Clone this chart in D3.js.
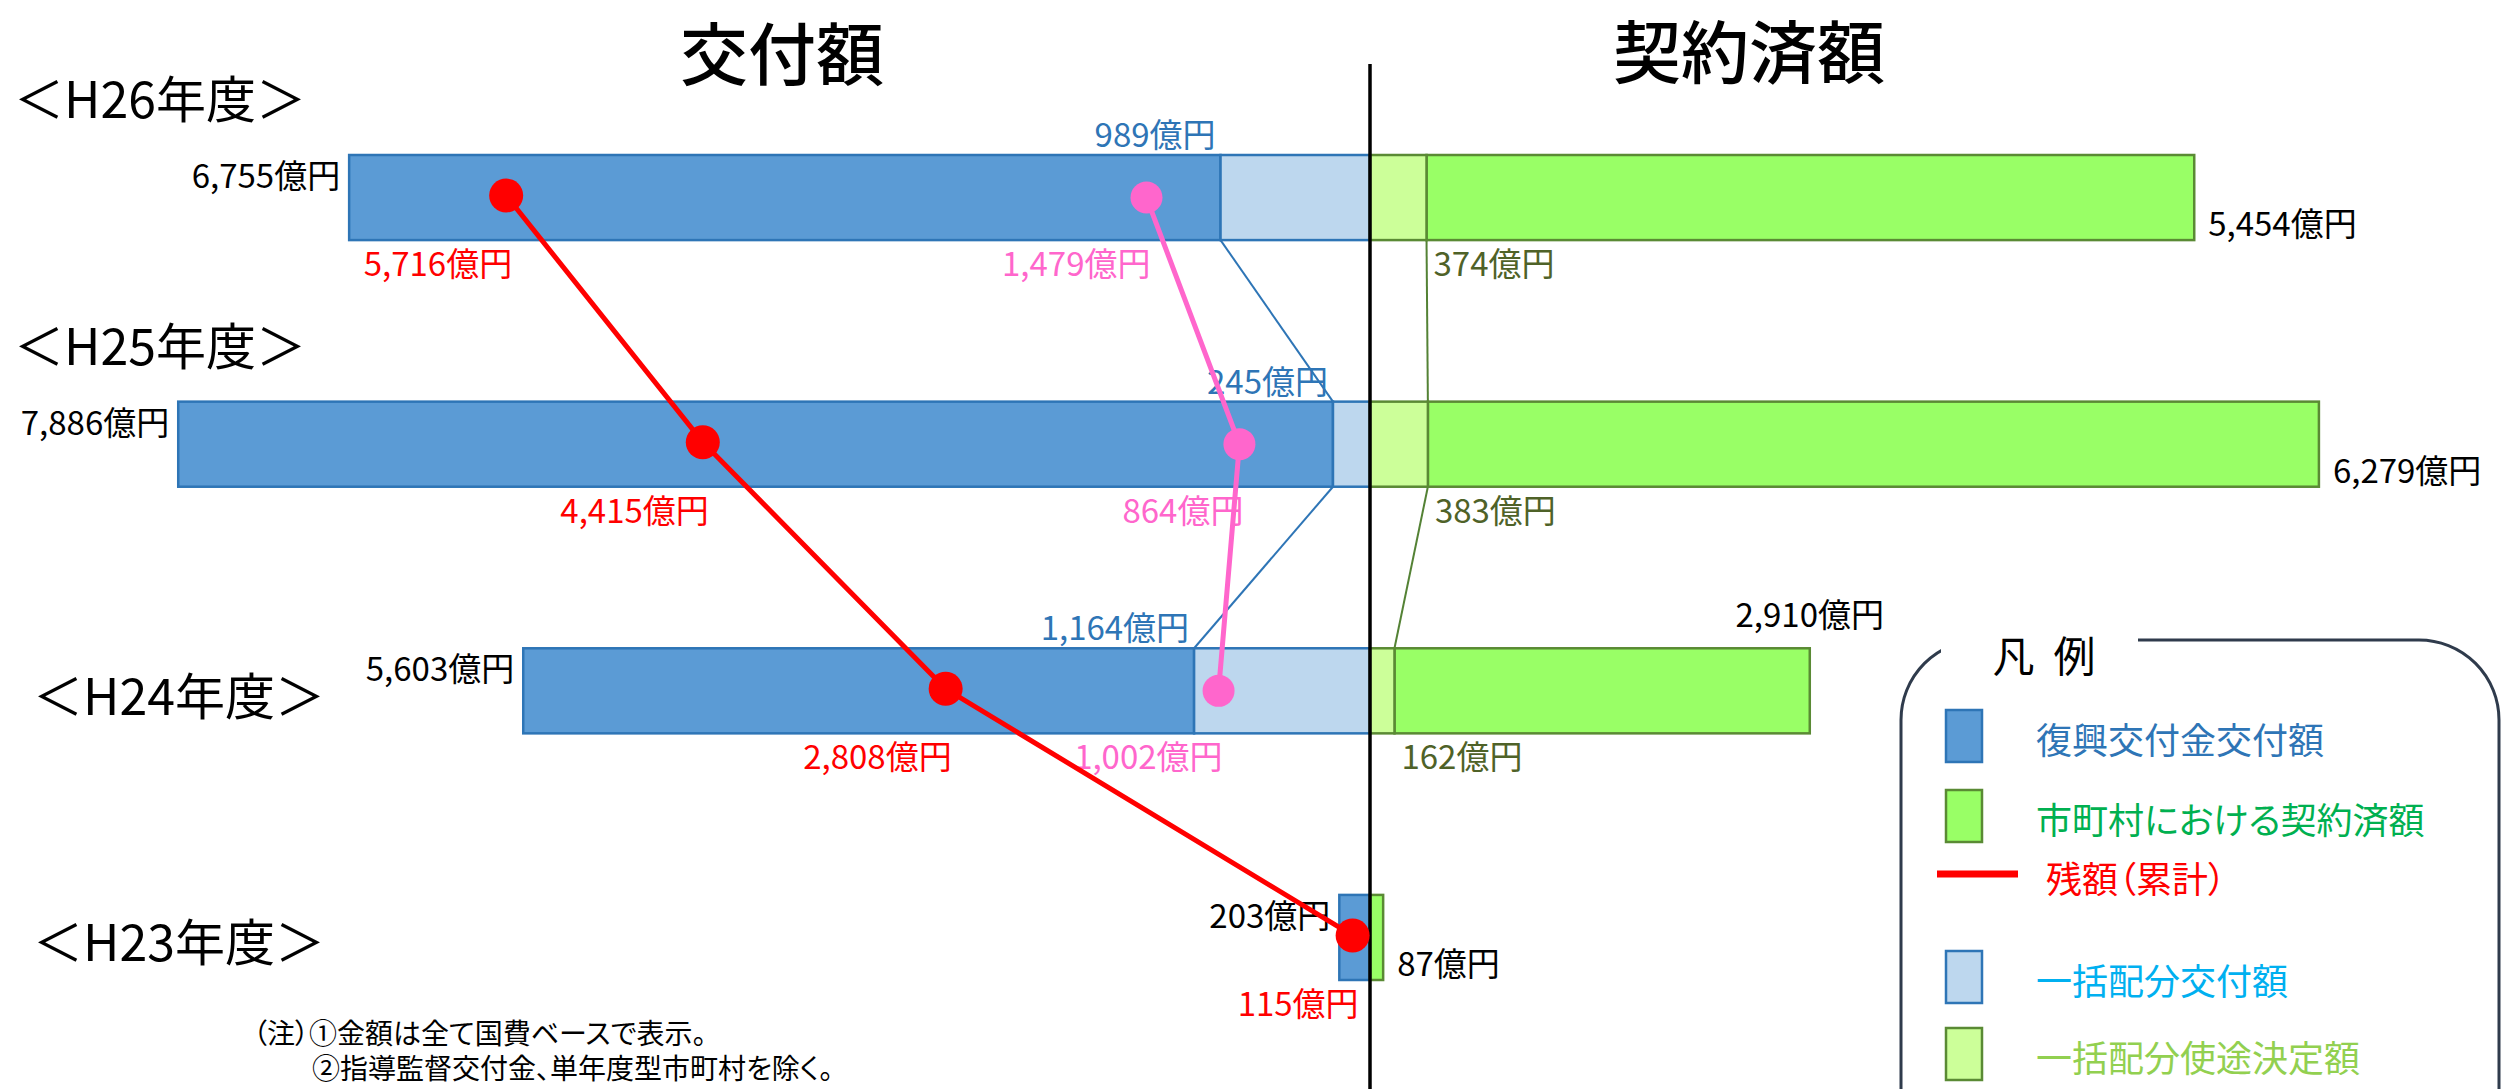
<!DOCTYPE html>
<html>
<head>
<meta charset="utf-8">
<title>交付額と契約済額</title>
<script src="https://d3js.org/d3.v7.min.js"></script>
<style>
  body { margin: 0; background: #fff; }
  text { font-family: "Noto Sans CJK JP", "Noto Sans", sans-serif; font-feature-settings: "palt"; }
</style>
</head>
<body>
<div id="chart"></div>
<script>
// 年度ごとの値（億円）
const years = ["H26", "H25", "H24", "H23"];
const yearLabels = ["＜H26年度＞", "＜H25年度＞", "＜H24年度＞", "＜H23年度＞"];
const kofuTotal = [6755, 7886, 5603, 203];       // 復興交付金交付額
const kofuIkkatsu = [989, 245, 1164, 0];         // 一括配分交付額
const keiyakuTotal = [5454, 6279, 2910, 87];     // 市町村における契約済額
const keiyakuIkkatsu = [374, 383, 162, 0];       // 一括配分使途決定額
const zanTotal = [5716, 4415, 2808, 115];        // 残額（累計）
const zanIkkatsu = [1479, 864, 1002, null];      // 一括配分の残額

const legendLabels = ["復興交付金交付額", "市町村における契約済額", "残額（累計）", "一括配分交付額", "一括配分使途決定額"];
const notes = ["（注）①金額は全て国費ベースで表示。", "②指導監督交付金、単年度型市町村を除く。"];

const w = 2509, h = 1089;
const cx = 1370;

const fmt = d3.format(",");
const yen = v => fmt(v) + "億円";

const xL = d3.scaleLinear().domain([0, 8000]).range([cx, cx - 1209]);
const xR = d3.scaleLinear().domain([0, 8000]).range([cx, cx + 1209]);
const y = d3.scaleBand().domain(years).range([155, 980]).paddingInner(0.655).paddingOuter(0).align(0);
const bh = y.bandwidth();

const rows = years.map((yr, i) => ({
  yr, i,
  label: yearLabels[i],
  kt: kofuTotal[i], ki: kofuIkkatsu[i],
  gt: keiyakuTotal[i], gi: keiyakuIkkatsu[i],
  zt: zanTotal[i], zi: zanIkkatsu[i]
}));

const svg = d3.select("#chart").append("svg")
  .attr("width", w).attr("height", h);

// タイトル
svg.append("text").attr("x", 782).attr("y", 80).attr("text-anchor", "middle")
  .attr("font-size", 68).attr("font-weight", 500).text("交付額");
svg.append("text").attr("x", 1749).attr("y", 78).attr("text-anchor", "middle")
  .attr("font-size", 68).attr("font-weight", 500).text("契約済額");

// 年度ラベル
svg.selectAll("text.year").data(rows).enter().append("text")
  .attr("class", "year")
  .attr("x", d => d.i < 2 ? 14 : 33)
  .attr("y", d => d.i < 2 ? y(d.yr) - 37 : y(d.yr) + bh / 2 + 24)
  .attr("font-size", 50)
  .text(d => d.label);

// 連結線
const links = rows.slice(0, -1).filter((d, k) => rows[k + 1].ki > 0);
svg.selectAll("line.blink").data(links).enter().append("line")
  .attr("x1", d => xL(d.ki)).attr("y1", d => y(d.yr) + bh)
  .attr("x2", d => xL(rows[d.i + 1].ki)).attr("y2", d => y(rows[d.i + 1].yr))
  .attr("stroke", "#2E75B6").attr("stroke-width", 2);
svg.selectAll("line.glink").data(links).enter().append("line")
  .attr("x1", d => xR(d.gi)).attr("y1", d => y(d.yr) + bh)
  .attr("x2", d => xR(rows[d.i + 1].gi)).attr("y2", d => y(rows[d.i + 1].yr))
  .attr("stroke", "#548235").attr("stroke-width", 2);

// 交付額（左）
svg.selectAll("rect.kofu").data(rows).enter().append("rect")
  .attr("x", d => xL(d.kt)).attr("y", d => y(d.yr))
  .attr("width", d => xL(d.ki) - xL(d.kt)).attr("height", bh)
  .attr("fill", "#5B9BD5").attr("stroke", "#2E75B6").attr("stroke-width", 2.5);
svg.selectAll("rect.kofuI").data(rows.filter(d => d.ki > 0)).enter().append("rect")
  .attr("x", d => xL(d.ki)).attr("y", d => y(d.yr))
  .attr("width", d => cx - xL(d.ki)).attr("height", bh)
  .attr("fill", "#BDD7EE").attr("stroke", "#2E75B6").attr("stroke-width", 2.5);

// 契約済額（右）
svg.selectAll("rect.kei").data(rows).enter().append("rect")
  .attr("x", d => xR(d.gi)).attr("y", d => y(d.yr))
  .attr("width", d => xR(d.gt) - xR(d.gi)).attr("height", bh)
  .attr("fill", "#99FF66").attr("stroke", "#5A8A34").attr("stroke-width", 2.5);
svg.selectAll("rect.keiI").data(rows.filter(d => d.gi > 0)).enter().append("rect")
  .attr("x", cx).attr("y", d => y(d.yr))
  .attr("width", d => xR(d.gi) - cx).attr("height", bh)
  .attr("fill", "#CCFF99").attr("stroke", "#5A8A34").attr("stroke-width", 2.5);

// 中心線
svg.append("line").attr("x1", cx).attr("x2", cx).attr("y1", 64).attr("y2", h)
  .attr("stroke", "#000").attr("stroke-width", 3.5);

// 数値ラベル
const lab = (cls, data, color) => svg.selectAll("text." + cls).data(data).enter().append("text")
  .attr("class", cls).attr("font-size", 33).attr("fill", color);

lab("kt", rows, "#000")
  .attr("x", d => xL(d.kt) - 9).attr("y", d => y(d.yr) + 33)
  .attr("text-anchor", "end").text(d => yen(d.kt));
lab("ki", rows.filter(d => d.ki > 0), "#2E75B6")
  .attr("x", d => xL(d.ki) - 5).attr("y", d => y(d.yr) - 8)
  .attr("text-anchor", "end").text(d => yen(d.ki));
lab("zt", rows, "#FF0000")
  .attr("x", d => xL(d.zt) + 6).attr("y", d => y(d.yr) + bh + 36)
  .attr("text-anchor", "end").text(d => yen(d.zt));
lab("zi", rows.filter(d => d.zi != null), "#FF66CC")
  .attr("x", d => xL(d.zi) + 4).attr("y", d => y(d.yr) + bh + 36)
  .attr("text-anchor", "end").text(d => yen(d.zi));
lab("gi", rows.filter(d => d.gi > 0), "#4F6228")
  .attr("x", d => xR(d.gi) + 7).attr("y", d => y(d.yr) + bh + 36)
  .text(d => yen(d.gi));
lab("gt", rows, "#000")
  .attr("x", d => d.yr === "H24" ? xR(d.gt) : xR(d.gt) + 14)
  .attr("y", d => d.yr === "H24" ? y(d.yr) - 21 : y(d.yr) + bh - 4)
  .attr("text-anchor", d => d.yr === "H24" ? "middle" : "start")
  .text(d => yen(d.gt));

// 残額の折れ線
const line = d3.line().x(d => d[0]).y(d => d[1]);
const redPts = rows.map(d => [xL(d.zt), y(d.yr) + bh / 2 - 2]);
const pinkPts = rows.filter(d => d.zi != null).map(d => [xL(d.zi), y(d.yr) + bh / 2]);
svg.append("path").attr("d", line(pinkPts)).attr("fill", "none")
  .attr("stroke", "#FF66CC").attr("stroke-width", 5);
svg.selectAll("circle.pink").data(pinkPts).enter().append("circle")
  .attr("cx", d => d[0]).attr("cy", d => d[1]).attr("r", 16).attr("fill", "#FF66CC");
svg.append("path").attr("d", line(redPts)).attr("fill", "none")
  .attr("stroke", "#FF0000").attr("stroke-width", 5);
svg.selectAll("circle.red").data(redPts).enter().append("circle")
  .attr("cx", d => d[0]).attr("cy", d => d[1]).attr("r", 17).attr("fill", "#FF0000");

// 注記
svg.append("text").attr("x", 253).attr("y", 1044).attr("font-size", 28).text(notes[0]);
svg.append("text").attr("x", 312).attr("y", 1079).attr("font-size", 28).text(notes[1]);

// 凡例
const lg = svg.append("g");
lg.append("rect").attr("x", 1901).attr("y", 640).attr("width", 598).attr("height", 560)
  .attr("rx", 80).attr("fill", "none").attr("stroke", "#2F3B4C").attr("stroke-width", 3);
lg.append("rect").attr("x", 1941).attr("y", 625).attr("width", 197).attr("height", 30).attr("fill", "#fff");
lg.append("text").attr("x", 2044).attr("y", 672).attr("text-anchor", "middle")
  .attr("font-size", 42).style("white-space", "pre").text("凡  例");

const swatches = [
  { top: 710, fill: "#5B9BD5", stroke: "#2E75B6", color: "#2E75B6", label: legendLabels[0] },
  { top: 790, fill: "#99FF66", stroke: "#5A8A34", color: "#00B050", label: legendLabels[1] },
  { top: 951, fill: "#BDD7EE", stroke: "#2E75B6", color: "#00B0F0", label: legendLabels[3] },
  { top: 1028, fill: "#CCFF99", stroke: "#5A8A34", color: "#92D050", label: legendLabels[4] }
];
lg.selectAll("rect.sw").data(swatches).enter().append("rect")
  .attr("x", 1946).attr("y", d => d.top).attr("width", 36).attr("height", 52)
  .attr("fill", d => d.fill).attr("stroke", d => d.stroke).attr("stroke-width", 2.5);
lg.selectAll("text.sw").data(swatches).enter().append("text")
  .attr("x", 2036).attr("y", d => d.top + 44).attr("font-size", 36)
  .attr("fill", d => d.color).text(d => d.label);
lg.append("line").attr("x1", 1937).attr("x2", 2018).attr("y1", 874).attr("y2", 874)
  .attr("stroke", "#FF0000").attr("stroke-width", 7);
lg.append("text").attr("x", 2046).attr("y", 893).attr("font-size", 36)
  .attr("fill", "#FF0000").text(legendLabels[2]);
</script>
</body>
</html>
